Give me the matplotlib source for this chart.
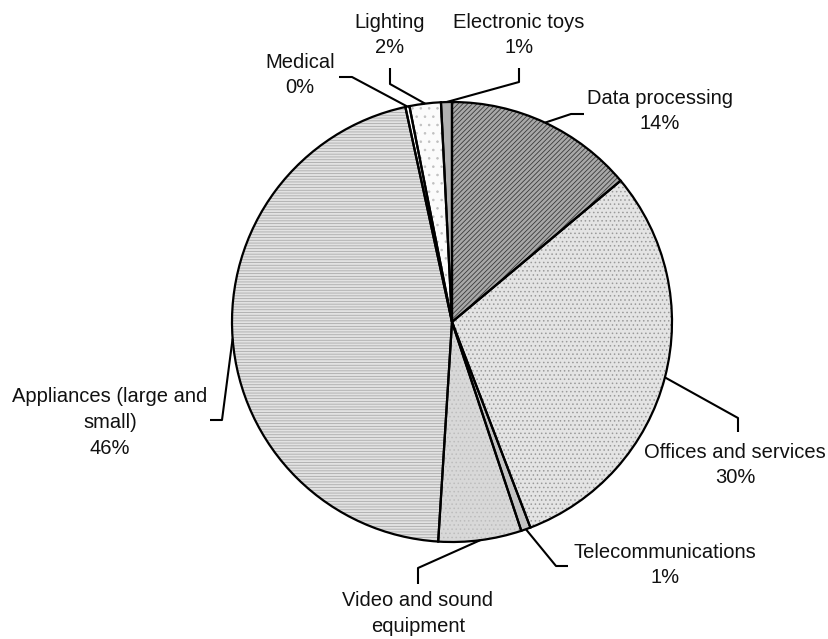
import matplotlib
matplotlib.use("Agg")
import matplotlib.pyplot as plt
import numpy as np

# Share of equipment by sector (percent)
categories = ["Data processing", "Offices and services", "Telecommunications",
              "Video and sound equipment", "Appliances (large and small)",
              "Medical", "Lighting", "Electronic toys"]
shares = [13.9, 30.3, 0.7, 6.1, 45.6, 0.3, 2.3, 0.8]
label_lines = [["Data processing"], ["Offices and services"], ["Telecommunications"],
               ["Video and sound", "equipment"], ["Appliances (large and", "small)"],
               ["Medical"], ["Lighting"], ["Electronic toys"]]
show_pct = [True, True, True, False, True, True, True, True]

# Fill styles: (face colour, hatch, hatch colour)
styles = [("#a8a8a8", "///////", "#3a3a3a"),
          ("#e4e4e4", "....", "#9a9a9a"),
          ("#c4c4c4", "", "#c4c4c4"),
          ("#d8d8d8", "....", "#bdbdbd"),
          ("#e2e2e2", "------", "#ababab"),
          ("#ffffff", "", "#ffffff"),
          ("#fbfbfb", "..", "#c0c0c0"),
          ("#b0b0b0", "", "#b0b0b0")]

# Label placement in figure pixels (top-left origin): text centre, leader elbow, leader end
label_pos = [(660, 98), (735, 452), (665, 552), (418, 601), (110, 397),
             (300, 62), (390, 22), (519, 22)]
leader_pts = [[(571, 114), (584, 114)],
              [(738, 418), (738, 432)],
              [(556, 566), (568, 566)],
              [(418, 568), (418, 584)],
              [(222, 420), (210, 420)],
              [(352, 77), (339, 77)],
              [(390, 84), (390, 68)],
              [(519, 82), (519, 68)]]

W, H = 829, 639
plt.rcParams["hatch.linewidth"] = 0.6
fig = plt.figure(figsize=(W / 100, H / 100), dpi=100)
ax = fig.add_axes([0, 0, 1, 1])

cx, cy, R = 452, H - 322, 220

# textured fills
wedges, _ = ax.pie(shares, center=(cx, cy), radius=R, startangle=90,
                   counterclock=False, frame=True)
for w, (fc, hatch, hc) in zip(wedges, styles):
    w.set_facecolor(fc)
    w.set_hatch(hatch)
    w.set_edgecolor(hc)
    w.set_linewidth(0)
# black outlines on top
outl, _ = ax.pie(shares, center=(cx, cy), radius=R, startangle=90,
                 counterclock=False, frame=True,
                 wedgeprops=dict(facecolor="none", edgecolor="black", linewidth=1.6))
ax.set_xlim(0, W)
ax.set_ylim(0, H)
ax.set_aspect("equal")
ax.axis("off")

font = dict(family=["Liberation Sans", "DejaVu Sans"], fontsize=14.5, color="#111111")
line_h = 25.5
for w, lines, share, pct, (tx, ty), pts in zip(wedges, label_lines, shares, show_pct,
                                                label_pos, leader_pts):
    mid = np.deg2rad((w.theta1 + w.theta2) / 2)
    ax_pt = (cx + R * np.cos(mid), cy + R * np.sin(mid))
    xs = [ax_pt[0]] + [p[0] for p in pts]
    ys = [ax_pt[1]] + [H - p[1] for p in pts]
    ax.plot(xs, ys, color="black", lw=1.5, solid_capstyle="butt", clip_on=False)
    text_lines = lines + ([f"{round(share):.0f}%"] if pct else [])
    for i, t in enumerate(text_lines):
        ax.text(tx, H - (ty + i * line_h), t, ha="center", va="center", **font)

fig.savefig("out.png", dpi=100)
